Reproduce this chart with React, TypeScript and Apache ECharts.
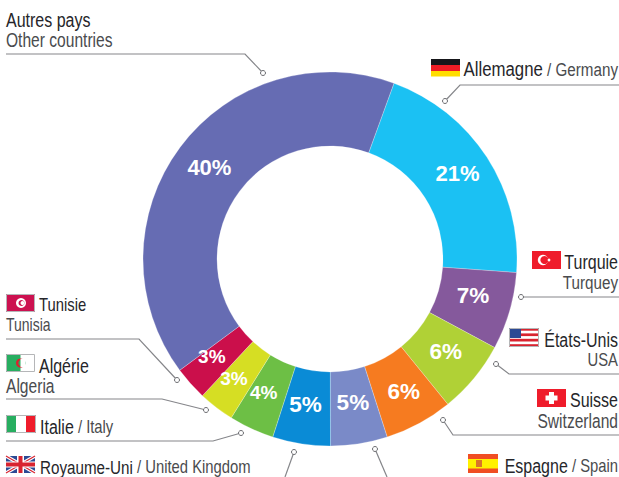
import React, { useEffect, useRef } from "react";
import * as echarts from "echarts";

const names = ["Allemagne","Turquie","États-Unis","Suisse","Espagne","Royaume-Uni","Italie","Algérie","Tunisie","Autres pays"];
const values = [20.6,6.7,6.3,5.9,4.9,5.0,3.9,3.1,2.9,40.7];
const percentLabels = ["21%","7%","6%","6%","5%","5%","4%","3%","3%","40%"];
const colors = ["#1bc1f3","#85599c","#b0d136","#f67b20","#7a8ac8","#0a8bd6","#6dbf45","#d6de23","#cb0f4b","#666cb3"];
const labelOffsets = [[-1,-2],[-4,-6],[-2,-5],[1,-2],[-1,-8],[-1,-6],[-2,-5],[-3,-2],[-4,-4],[2,0]];
const labelSizes = [22,22.5,22.5,22.5,22.5,22.5,19,19,19,22];

const FONT = "'Liberation Sans',sans-serif";
const DARK = "#26262a";
const GREY = "#4a4b4e";
const LINE = "#85868a";
const TEXT_SCALE = 0.8;

const rect = (x:number,y:number,w:number,h:number,fill:string) => ({type:"rect",shape:{x,y,width:w,height:h},style:{fill},silent:true});
const leader = (pts:number[][]) => {
  const end = pts[pts.length-1];
  return [
    {type:"polyline",shape:{points:pts},style:{stroke:LINE,lineWidth:1.2,fill:"none"},silent:true},
    {type:"circle",shape:{cx:end[0],cy:end[1],r:2.5},style:{fill:"#fff",stroke:"#6a6b6f",lineWidth:1},silent:true},
  ];
};
const txt = (x:number,y:number,fr:string,en:string,align:"left"|"right"="left",sizeA=18.5,sizeB=18.5) => ({
  type:"text",x,y,scaleX:TEXT_SCALE,silent:true,
  style:{
    text:(fr?`{a|${fr}}`:"")+(en?`{b|${en}}`:""),
    align,verticalAlign:"middle",
    rich:{
      a:{fontFamily:FONT,fontSize:sizeA,fill:DARK,color:DARK},
      b:{fontFamily:FONT,fontSize:sizeB,fill:GREY,color:GREY},
    },
  },
});
const border = (x:number,y:number,w:number,h:number) => ({type:"rect",shape:{x:x+.5,y:y+.5,width:w-1,height:h-1},style:{fill:"none",stroke:"#b5b6b8",lineWidth:1},silent:true});

const flags = [
  // Germany
  rect(431,59,29,6,"#16161a"),rect(431,65,29,6,"#ee1c25"),rect(431,71,29,5.5,"#ffdd00"),
  // Turkey
  rect(532,251,29,18,"#ef1c2b"),
  {type:"circle",shape:{cx:543,cy:260,r:5.2},style:{fill:"#fff"},silent:true},
  {type:"circle",shape:{cx:544.5,cy:260,r:4.1},style:{fill:"#ef1c2b"},silent:true},
  {type:"circle",shape:{cx:549,cy:260,r:1.4},style:{fill:"#fff"},silent:true},
  // USA
  rect(509,328,30,19,"#fff"),
  ...[0,2,4,6].map(i=>rect(509,328+i*2.7,30,2.7,"#d8232f")),
  rect(509,328,12,10,"#2c4a94"),
  border(509,328,30,19),
  // Switzerland
  rect(537,389,29,18,"#ef1c2b"),rect(549,392,5,12,"#fff"),rect(545.5,395.5,12,5,"#fff"),
  // Spain
  rect(468,454,30,19,"#f04e23"),rect(468,459,30,9.5,"#fff200"),rect(476,460,6,7,"#d9742b"),
  // Tunisia
  rect(6,294,29,18,"#cc1150"),
  {type:"circle",shape:{cx:21,cy:303,r:5},style:{fill:"#fff"},silent:true},
  {type:"circle",shape:{cx:21.5,cy:303,r:3},style:{fill:"#cc1150"},silent:true},
  {type:"circle",shape:{cx:22.5,cy:303,r:2},style:{fill:"#fff"},silent:true},
  border(6,294,29,18),
  // Algeria
  rect(6,354,29,18,"#fff"),rect(6,354,14.5,18,"#27ae60"),
  {type:"circle",shape:{cx:20.5,cy:363,r:4.5},style:{fill:"#d8232f"},silent:true},
  {type:"circle",shape:{cx:22,cy:363,r:3.6},style:{fill:"#27ae60"},silent:true},
  rect(20.5,359,5,8,"#fff"),
  border(6,354,29,18),
  // Italy
  rect(6,415,30,18,"#fff"),rect(6,415,10,18,"#27ae60"),rect(26,415,10,18,"#ef1c2b"),border(6,415,30,18),
  // UK
  rect(6,456,29,17,"#2c4a94"),
  {type:"line",shape:{x1:6,y1:456,x2:35,y2:473},style:{stroke:"#fff",lineWidth:3.5},silent:true},
  {type:"line",shape:{x1:35,y1:456,x2:6,y2:473},style:{stroke:"#fff",lineWidth:3.5},silent:true},
  {type:"line",shape:{x1:6,y1:456,x2:35,y2:473},style:{stroke:"#d8232f",lineWidth:1.2},silent:true},
  {type:"line",shape:{x1:35,y1:456,x2:6,y2:473},style:{stroke:"#d8232f",lineWidth:1.2},silent:true},
  rect(17,456,7,17,"#fff"),rect(6,461.5,29,6,"#fff"),rect(18.5,456,4,17,"#d8232f"),rect(6,462.5,29,4,"#d8232f"),
];

const annotations = [
  txt(6,20,"Autres pays","","left",20),
  txt(6,40,"","Other countries","left",18.5,19.5),
  txt(618,69,"Allemagne"," / Germany","right",21,19),
  txt(618,262,"Turquie","","right",20),
  txt(618,282,"","Turquey","right",18.5,19),
  txt(618,340,"États-Unis","","right",20),
  txt(618,360,"","USA","right"),
  txt(618,400,"Suisse","","right",20),
  txt(618,421,"","Switzerland","right",18.5,19.5),
  txt(618,466,"Espagne"," / Spain","right",20,18.5),
  txt(39,305,"Tunisie",""),
  txt(6,325,"","Tunisia","left",18.5,17.5),
  txt(39,366,"Algérie","","left",20),
  txt(6,386,"","Algeria","left",18.5,19.5),
  txt(40,427,"Italie"," / Italy","left",20,18.5),
  txt(40,467,"Royaume-Uni"," / United Kingdom","left",19,18.5),
  ...leader([[6,54],[245,54],[263,73]]),
  ...leader([[619,85],[460,85],[445,101]]),
  ...leader([[619,297],[521,297]]),
  ...leader([[619,374],[509,374],[496,364]]),
  ...leader([[619,435],[453,435],[443,420]]),
  ...leader([[6,339],[139,339],[177,380]]),
  ...leader([[6,399],[162,399],[206,410]]),
  ...leader([[6,441],[213,441],[241,433]]),
  ...leader([[285,477],[294,452]]),
  ...leader([[387,477],[375,449]]),
  ...flags,
];

export default function App() {
  const ref = useRef<HTMLDivElement>(null);
  useEffect(() => {
    const chart = echarts.init(ref.current!, null, { renderer: "svg" });
    chart.setOption({
      animation: false,
      backgroundColor: "#fff",
      series: [{
        type: "pie",
        center: [330, 259],
        radius: [113, 187],
        startAngle: 70,
        clockwise: true,
        silent: true,
        avoidLabelOverlap: false,
        labelLayout: { hideOverlap: false },
        itemStyle: { borderColor: "rgba(255,255,255,0.5)", borderWidth: 0.5 },
        label: {
          show: true,
          position: "inside",
          formatter: (p: any) => percentLabels[p.dataIndex],
          color: "#fff",
          fontFamily: FONT,
          fontWeight: "bold",
        },
        labelLine: { show: false },
        data: names.map((name, i) => ({
          name,
          value: values[i],
          itemStyle: { color: colors[i] },
          label: { offset: labelOffsets[i], fontSize: labelSizes[i] },
        })),
      }],
      graphic: { elements: annotations },
    });
    return () => chart.dispose();
  }, []);
  return <div ref={ref} style={{ position: "fixed", left: 0, top: 0, width: 619, height: 477 }} />;
}
